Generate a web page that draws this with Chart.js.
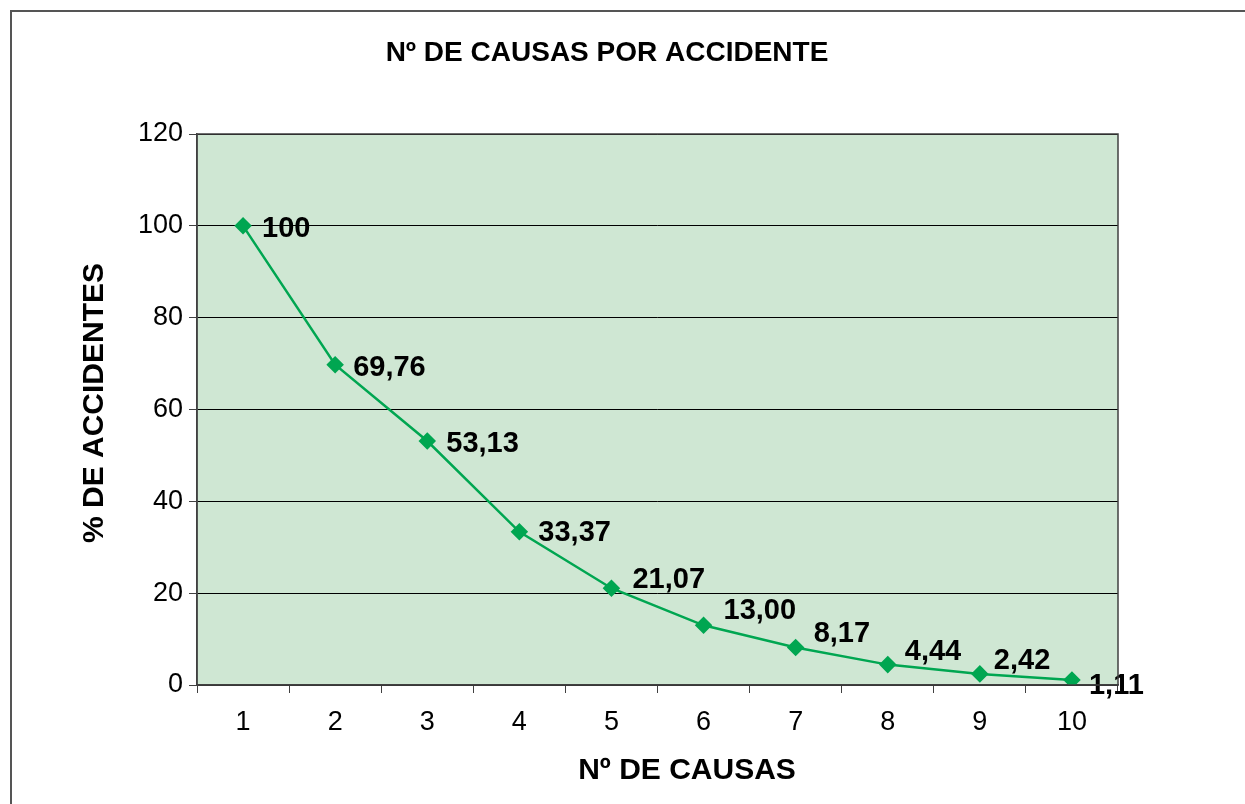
<!DOCTYPE html>
<html>
<head>
<meta charset="utf-8">
<script src="https://cdn.jsdelivr.net/npm/chart.js@4/dist/chart.umd.min.js"></script>
<style>
  html, body { margin: 0; padding: 0; background: #fff; }
  #wrap { position: relative; width: 1245px; height: 804px; overflow: hidden; }
  #frame { position: absolute; left: 10px; top: 10px; width: 1300px; height: 900px; border: 2px solid #555; box-sizing: border-box; }
  canvas { position: absolute; left: 0; top: 0; }
</style>
</head>
<body>
<div id="wrap">
  <div id="frame"></div>
  <canvas id="chart" width="1245" height="804"></canvas>
</div>
<script>
const categories = ['1', '2', '3', '4', '5', '6', '7', '8', '9', '10'];
const porcentajes = [100, 69.76, 53.13, 33.37, 21.07, 13.00, 8.17, 4.44, 2.42, 1.11];
const etiquetas = ['100', '69,76', '53,13', '33,37', '21,07', '13,00', '8,17', '4,44', '2,42', '1,11'];
const yTicks = [0, 20, 40, 60, 80, 100, 120];

// desplazamiento de cada etiqueta respecto a su punto (px)
const labelDx = [19, 18, 19, 19, 21, 20, 18, 17, 14, 17];
const labelDy = [3, 3, 3, 1, -8, -14, -13, -13, -13, 6];

const FONT = '"Liberation Sans", Arial, sans-serif';

const fondoYTextos = {
    id: 'fondoYTextos',
    beforeDraw(chart) {
        const a = chart.chartArea;
        const ctx = chart.ctx;
        ctx.save();
        ctx.fillStyle = '#cfe7d3';
        ctx.fillRect(a.left, a.top, a.right - a.left, a.bottom - a.top);
        ctx.restore();
    },
    afterDraw(chart) {
        const a = chart.chartArea;
        const ctx = chart.ctx;
        ctx.save();
        ctx.strokeStyle = '#404040';
        ctx.lineWidth = 1.5;
        ctx.strokeRect(a.left, a.top, a.right - a.left, a.bottom - a.top);

        ctx.fillStyle = '#000';
        ctx.textAlign = 'center';
        ctx.textBaseline = 'middle';
        ctx.font = 'bold 28px ' + FONT;
        ctx.fillText('Nº DE CAUSAS POR ACCIDENTE', 607, 53);
        ctx.font = 'bold 30px ' + FONT;
        ctx.fillText('Nº DE CAUSAS', 687, 771);
        ctx.translate(95, 403);
        ctx.rotate(-Math.PI / 2);
        ctx.fillText('% DE ACCIDENTES', 0, 0);
        ctx.restore();
    },
    afterDatasetsDraw(chart) {
        const ctx = chart.ctx;
        const meta = chart.getDatasetMeta(0);
        ctx.save();
        ctx.fillStyle = '#000';
        ctx.font = 'bold 29px ' + FONT;
        ctx.textAlign = 'left';
        ctx.textBaseline = 'middle';
        meta.data.forEach((pt, i) => {
            ctx.fillText(etiquetas[i], pt.x + labelDx[i], pt.y + labelDy[i]);
        });
        ctx.restore();
    }
};

new Chart(document.getElementById('chart'), {
    type: 'line',
    data: {
        labels: categories,
        datasets: [{
            data: porcentajes,
            borderColor: '#00a651',
            backgroundColor: '#00a651',
            borderWidth: 2.5,
            pointStyle: 'rectRot',
            pointRadius: 7,
            pointHoverRadius: 7,
            tension: 0
        }]
    },
    options: {
        responsive: false,
        animation: false,
        layout: { padding: { top: 134, right: 127, left: 0, bottom: 0 } },
        plugins: { legend: { display: false }, tooltip: { enabled: false } },
        scales: {
            x: {
                offset: true,
                grid: { offset: true, drawOnChartArea: false, color: '#404040', tickLength: 8, tickColor: '#404040' },
                border: { color: '#404040', width: 1.5 },
                ticks: { color: '#000', font: { family: FONT, size: 27 }, padding: 13 },
                afterFit(scale) { scale.height = 119; }
            },
            y: {
                min: 0,
                max: 120,
                afterBuildTicks(scale) { scale.ticks = yTicks.map(v => ({ value: v })); },
                grid: { color: '#000', lineWidth: 1, tickLength: 8, tickColor: '#404040' },
                border: { color: '#404040', width: 1.5 },
                ticks: { color: '#000', font: { family: FONT, size: 27 }, padding: 6 },
                afterFit(scale) { scale.width = 197; }
            }
        }
    },
    plugins: [fondoYTextos]
});
</script>
</body>
</html>
